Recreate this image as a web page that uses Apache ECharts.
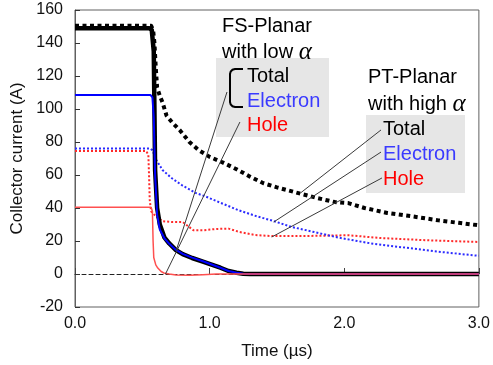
<!DOCTYPE html>
<html>
<head>
<meta charset="utf-8">
<script src="https://cdn.jsdelivr.net/npm/echarts@6/dist/echarts.min.js"></script>
<style>
  html, body { margin: 0; padding: 0; background: #fff; }
  #chart { width: 493px; height: 365px; }
</style>
</head>
<body>
<div id="chart"></div>
<script>
// Collector current during turn-off, [time in µs, current in A]

// FS-Planar (low alpha): solid lines
const fsTotal = [[0,149],[0.55,149],[0.57,148],[0.585,135],[0.59,100],[0.595,63],[0.61,40],[0.63,30],[0.665,22],[0.7,18.5],[0.75,14.5],[0.8,12],[0.87,9.7],[0.95,7.5],[1.02,5.5],[1.08,3.8],[1.14,1.8],[1.2,0.8],[1.25,0.2],[1.3,0],[3.0,0]];
const fsElectron = [[0,108.5],[0.56,108.5],[0.575,107],[0.585,95],[0.595,60],[0.61,36],[0.63,27],[0.665,21.5],[0.7,18.3],[0.75,14.6],[0.8,12.2],[0.87,9.9],[0.95,7.7],[1.02,5.6],[1.08,3.8],[1.14,1.8],[1.2,0.8],[1.25,0.2],[1.3,0],[3.0,0]];
const fsHole = [[0,40.5],[0.565,40.5],[0.575,38],[0.58,20],[0.585,10],[0.6,5.5],[0.615,3.6],[0.64,1.5],[0.66,0.6],[0.7,0],[0.75,-0.6],[0.85,-0.8],[0.95,-0.4],[1.05,0],[3.0,0]];

// PT-Planar (high alpha): dotted lines
const ptTotal = [[0,150.5],[0.565,150.5],[0.58,148],[0.59,140],[0.6,125],[0.61,113],[0.63,108],[0.65,104],[0.68,96],[0.72,92],[0.78,87],[0.85,80],[0.92,75],[1.0,71],[1.1,67.5],[1.2,63.5],[1.3,59],[1.4,55],[1.5,52.5],[1.66,49],[1.8,46],[1.93,43.6],[2.03,43],[2.15,40],[2.32,37],[2.5,35],[2.7,32.5],[2.85,31],[3.0,29.5]];
const ptElectron = [[0,76],[0.56,76],[0.575,75],[0.59,72],[0.605,69],[0.65,63],[0.72,58],[0.8,53.5],[0.9,49],[0.97,47],[1.1,42.5],[1.22,38.5],[1.35,35],[1.48,32],[1.61,28.5],[1.8,25],[1.96,22],[2.2,18.5],[2.45,16],[2.7,13.5],[3.0,11]];
const ptHole = [[0,74.5],[0.53,74.5],[0.545,72],[0.55,60],[0.555,45],[0.565,38],[0.6,35],[0.65,32],[0.72,31.5],[0.8,31.5],[0.84,29],[0.88,26.5],[0.95,26.5],[1.05,27.3],[1.14,27.5],[1.22,25.5],[1.34,23.6],[1.46,23],[1.7,23],[2.03,23.5],[2.27,21.8],[2.6,20.5],[3.0,19.4]];

// Leader lines from the labels to the curves
const leadFsTotal = [[1.129,110.3],[0.753,14.5]];
const leadFsHole = [[1.225,92.1],[0.672,0]];
const leadPtTotal = [[2.273,87.3],[1.675,49.1]];
const leadPtElectron = [[2.273,73.9],[1.476,31.5]];
const leadPtHole = [[2.28,58.2],[1.461,22.4]];

// Axis ticks
const xTicks = { min: 0, max: 3, interval: 1 };
const yTicks = { min: -20, max: 160, interval: 20 };

const FONT = '"Liberation Sans", Arial, sans-serif';
const BLUE = '#0000ff';
const RED = '#ff0000';

function curve(name, data, color, width, dash, z) {
  return {
    name, type: 'line', data, xAxisIndex: 0, yAxisIndex: 0,
    showSymbol: false, symbol: 'none', smooth: false, z,
    lineStyle: { color, width, type: dash || 'solid', cap: 'butt', join: 'round' },
    emphasis: { disabled: true }, silent: true, animation: false
  };
}
function leader(data) {
  return {
    type: 'line', data, showSymbol: false, symbol: 'none', z: 6,
    lineStyle: { color: '#3a3a3a', width: 1 }, silent: true, animation: false
  };
}

const chart = echarts.init(document.getElementById('chart'), null, { renderer: 'canvas' });

const labelFont = 20;
// x = left edge, cy = vertical centre of the capitals
function txt(x, cy, text, color, extra) {
  return {
    type: 'text', x, y: cy - 9, z: 10,
    style: Object.assign({ text, fill: color, font: labelFont + 'px ' + FONT, verticalAlign: 'top', align: 'left' }, extra || {})
  };
}
const alphaRich = { a: { fontFamily: '"Liberation Serif", serif', fontStyle: 'italic', fontSize: 25, fill: '#000' } };

chart.setOption({
  animation: false,
  backgroundColor: '#fff',
  grid: { left: 75, right: 12, top: 10, bottom: 58, show: true, borderColor: '#606060', borderWidth: 1, backgroundColor: 'transparent' },
  xAxis: [
    {
      type: 'value', min: xTicks.min, max: xTicks.max, interval: xTicks.interval,
      position: 'bottom',
      axisLine: { show: false, onZero: false },
      axisTick: { show: false },
      splitLine: { show: false },
      axisLabel: { color: '#111', fontFamily: FONT, fontSize: 16, margin: 9, formatter: v => v.toFixed(1) },
      name: 'Time (\u00b5s)', nameLocation: 'middle', nameGap: 36,
      nameTextStyle: { color: '#111', fontFamily: FONT, fontSize: 17 }
    },
    {
      type: 'value', min: xTicks.min, max: xTicks.max, interval: xTicks.interval,
      axisLine: { show: true, onZero: true, lineStyle: { color: '#222', width: 1, type: [4, 3] } },
      axisTick: { show: true, inside: false, length: 6, lineStyle: { color: '#444', width: 1 } },
      axisLabel: { show: false },
      splitLine: { show: false }
    }
  ],
  yAxis: {
    type: 'value', min: yTicks.min, max: yTicks.max, interval: yTicks.interval,
    axisLine: { show: true, onZero: false, lineStyle: { color: '#606060', width: 1 } },
    axisTick: { show: true, inside: true, length: 5, lineStyle: { color: '#333' } },
    splitLine: { show: false },
    axisLabel: { color: '#111', fontFamily: FONT, fontSize: 16, margin: 12 },
    name: 'Collector current (A)', nameLocation: 'middle', nameGap: 47,
    nameTextStyle: { color: '#111', fontFamily: FONT, fontSize: 17 }
  },
  graphic: [
    { type: 'rect', shape: { x: 216, y: 58, width: 113, height: 79 }, style: { fill: '#e6e6e6' }, z: 0 },
    { type: 'rect', shape: { x: 366, y: 115, width: 99, height: 78 }, style: { fill: '#e6e6e6' }, z: 0 },
    txt(222, 25, 'FS-Planar', '#000'),
    txt(222, 48.5, 'with low {a|\u03b1}', '#000', { rich: alphaRich }),
    txt(247, 75.5, 'Total', '#000'),
    txt(247, 100, 'Electron', '#3a3aff'),
    txt(247, 124, 'Hole', RED),
    { type: 'polyline', z: 10,
      shape: { points: [[243,69],[235,69],[232.5,69.7],[230.7,71.5],[230,74],[230,102],[230.7,104.5],[232.5,106.3],[235,107],[243,107]] },
      style: { stroke: '#000', lineWidth: 2, fill: null } },
    txt(368, 76.5, 'PT-Planar', '#000'),
    txt(368, 100.5, 'with high {a|\u03b1}', '#000', { rich: alphaRich }),
    txt(383, 128.5, 'Total', '#000'),
    txt(383, 153.5, 'Electron', '#3a3aff'),
    txt(383, 178.5, 'Hole', RED)
  ],
  series: [
    curve('PT Hole', ptHole, '#ff2a2a', 2, [2, 2], 2),
    curve('PT Electron', ptElectron, '#2b2bff', 2, [2, 2], 2),
    curve('PT Total', ptTotal, '#000', 4, [4, 3.5], 3),
    curve('FS Total', fsTotal, '#000', 4.5, 'solid', 4),
    curve('FS Electron', fsElectron, BLUE, 2, 'solid', 5),
    curve('FS Hole', fsHole, '#ff5050', 1.5, 'solid', 5),
    leader(leadFsTotal),
    leader(leadFsHole),
    leader(leadPtTotal),
    leader(leadPtElectron),
    leader(leadPtHole)
  ]
});
</script>
</body>
</html>
